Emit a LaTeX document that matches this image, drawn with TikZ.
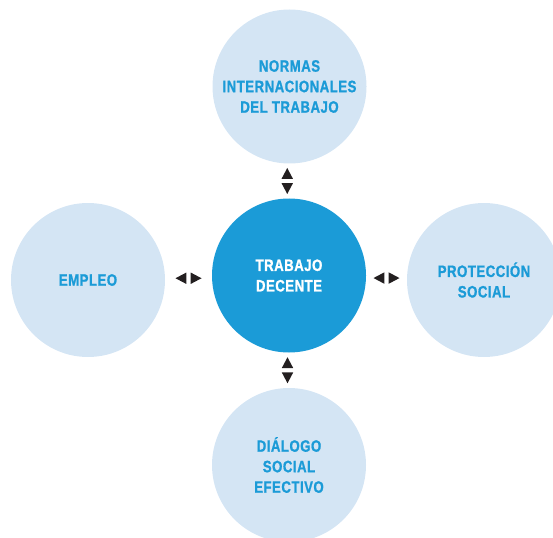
\documentclass[tikz,border=0pt]{standalone}
\usepackage{fontspec}
\newfontfamily\condfont[FakeStretch=0.8,LetterSpace=3,FakeBold=1]{Liberation Sans}
\usetikzlibrary{calc}
\definecolor{hubblue}{HTML}{1B9BD7}
\definecolor{paleblue}{HTML}{D4E5F4}
\definecolor{tricol}{HTML}{231F20}
\begin{document}
\begin{tikzpicture}[x=1pt,y=-1pt,
  bubble/.style={circle,minimum size=154pt,inner sep=0pt,fill=paleblue,text=hubblue,align=center,
    font=\condfont\bfseries\fontsize{16.5}{20.5}\selectfont},
  hub/.style={bubble,fill=hubblue,text=white},
  tri/.style={fill=tricol}]
\useasboundingbox (0,0) rectangle (553,537);
\node[hub] (c) at (289,275.5) {TRABAJO\\DECENTE};
\node[bubble] (n) at (289.5,86.5) {NORMAS\\INTERNACIONALES\\DEL TRABAJO};
\node[bubble] (l) at (88,280) {EMPLEO};
\node[bubble] (r) at (484,280) {PROTECCIÓN\\SOCIAL};
\node[bubble] (s) at (289,465) {DIÁLOGO\\SOCIAL\\EFECTIVO};
% midpoints between circles
\coordinate (mt) at ($(n.south)!0.5!(c.north)+(-2,0)$);
\coordinate (mb) at ($(c.south)!0.5!(s.north)+(-1.5,0)$);
\coordinate (ml) at ($(l.east)!0.5!(c.west)+(0,0.5)$);
\coordinate (mr) at ($(c.east)!0.5!(r.west)+(0,0.3)$);
% vertical pairs
\foreach \m in {mt,mb}{
  \fill[tri] ($(\m)+(-5.7,-2.2)$) -- ($(\m)+(5.7,-2.2)$) -- ($(\m)+(0,-13)$) -- cycle;
  \fill[tri] ($(\m)+(-5.7,2.2)$) -- ($(\m)+(5.7,2.2)$) -- ($(\m)+(0,13)$) -- cycle;
}
% horizontal pairs
\foreach \m in {ml,mr}{
  \fill[tri] ($(\m)+(-2.2,-5.7)$) -- ($(\m)+(-2.2,5.7)$) -- ($(\m)+(-13,0)$) -- cycle;
  \fill[tri] ($(\m)+(2.2,-5.7)$) -- ($(\m)+(2.2,5.7)$) -- ($(\m)+(13,0)$) -- cycle;
}
\end{tikzpicture}
\end{document}
